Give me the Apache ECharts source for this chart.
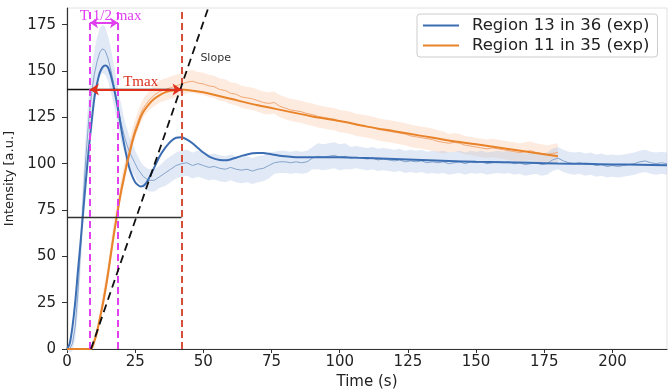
<!DOCTYPE html>
<html><head><meta charset="utf-8">
<script src="https://cdn.jsdelivr.net/npm/echarts@6/dist/echarts.min.js"></script>
<style>html,body{margin:0;padding:0;background:#fff}#c{width:670px;height:389px}</style>
</head><body><div id="c"></div>
<script>
// ---------- axis ticks ----------
const xTicks = [0, 25, 50, 75, 100, 125, 150, 175, 200];
const yTicks = [0, 25, 50, 75, 100, 125, 150, 175];

// ---------- Region 13 in 36 (blue) ----------
const tBlue = [0,1,2,3,4,5,6,7,8,9,10,11,12,13,14,15,16,17,18,19,20,21,22,23,24,25,26,27,28,29,
  30,32,34,36,38,40,42,44,46,48,50,52,54,56,58,60,62,64,66,68,70,72,74,76,78,80,82,84,86,88,
  90,92,94,96,98,100,102,104,106,108,110,112,114,116,118,120,122,124,126,128,130,132,134,136,138,
  140,142,144,146,148,150,152,154,156,158,160,162,164,166,168,170,172,174,176,178,180,182,184,186,
  188,190,192,194,196,198,200,202,204,206,208,210,212,214,216,218,220];
const blueExp = [0,0,3,12,30,55,82,105,124,138,148,155,160,162,161,157,151,144,136,128,121,115,110,106,103,100,97,95,93,92,
  91,91,93,95,97,99,100,100.5,99,100,99,98,98.5,97.5,97,98,97,96.5,97,96,97,97.5,99,100.5,101,101,100.5,101,100.5,101,
  103,104,103.5,104,104.5,103.5,104,103,103.5,103,102.5,103,102,102.5,102,101.5,102,101,101.5,101,101.5,100.5,101,100.5,101,
  100,100.5,101,100,101,100.5,101,100,100.5,101,100.5,101,100,100.5,99.5,100,100.5,99.5,100,102,103,101.5,100.5,100,
  100.5,99.5,100,99,99.5,98.5,99,98.5,99,99.5,100,101,101.5,100.5,100,100.5,100];
const blueErr = [1,2,4,7,10,12,13,13,13,13,13,13,13,13,13,12,12,11,11,10,10,9,9,8,8,7,7,6,6,6,
  6,6,6,7,7,7,7,7,7,7,7,7,7,7,7,7,7,7,7,7,7,7,7,6,6,6,6,6,6,6,
  6,7,7,7,7,7,7,6,6,6,6,6,6,6,6,6,6,6,6,6,6,6,6,6,6,
  6,6,6,6,6,6,6,6,6,6,6,6,6,6,6,6,6,6,6,6,6,6,6,6,
  6,6,6,6,6,6,6,6,6,6,6,6,6,6,6,6,6];
const tBlueFit = [0,1,2,3,4,5,6,7,8,9,10,11,12,13,14,15,16,17,18,19,20,21,22,23,24,25,26,27,28,29,
  30,32,34,36,38,40,42,44,46,48,50,52,54,56,58,60,62,64,66,68,70,72,74,76,78,80,84,88,92,96,100,
  110,120,130,140,150,160,170,180,190,200,210,220];
const blueFit = [0,3,12,25,42,58,75,92,108,122,135,143,149,152,153,152,148,142,135,127,118,110,103,97,93,90,88.5,87.7,88,89.5,
  92,98,104,108.5,112,114,114.3,113,111,108.5,106,104,102.7,102,101.8,102.3,103.2,104.2,105,105.6,105.8,105.7,105.3,104.8,104.3,104,103.5,103.4,103.4,103.4,103.4,
  103,102.5,102,101.5,101,100.8,100.5,100.1,99.9,99.6,99.4,99.2];

// ---------- Region 11 in 35 (orange) ----------
const tOrange = [0,2,4,6,8,9,10,11,12,13,14,15,16,17,18,19,20,21,22,23,24,25,26,27,28,29,30,
  32,34,36,38,40,42,44,46,48,50,52,54,56,58,60,62,64,66,68,70,72,74,76,78,80,82,84,86,88,
  90,92,94,96,98,100,102,104,106,108,110,112,114,116,118,120,122,124,126,128,130,132,134,136,138,
  140,142,144,146,148,150,152,154,156,158,160,162,164,166,168,170,172,174,176,178,180];
const orangeExp = [0,0,0,0,0,1,5,10,17,25,33,42,52,62,71,80,88,95,102,108,114,119,123,127,130,132,134,
  137,139,140,141,142,143,144,144.5,143.5,143,142,141.5,140,139.5,138,137.5,136,135.5,135,134,133,132.5,133,131,130,129,128.5,128,127,
  126.5,125.5,125,124.5,124,123,122.5,122,121,120.5,120,119.5,118.5,118,117.5,117,116.5,116,115,114.5,114,113.5,113,112,111.5,
  111,111.5,111,110,109.5,109,108.5,108,108.5,108,107.5,107,106.5,106,106.5,107,106,105.5,105,105.5,106];
const orangeErr = [0,0,0,0,0,1,2,3,3,4,4,4,5,5,5,5,5,5,5,5,5,5,5,5,5,5,5,
  6,6,6,6,6,6,6,6,6,6,6,6,6,6,6,6,6,6,6,6,6,6,6,6,6,6,6,6,6,
  6,6,6,6,6,6,6,6,6,6,6,6,6,6,6,6,6,6,6,6,6,6,6,6,6,
  5,5,5,5,5,5,5,5,5,5,5,5,5,5,5,5,5,5,5,5,5];
const tOrangeFit = [0,2,4,6,8,8.8,10,11,12,13,14,15,16,17,18,19,20,21,22,23,24,25,26,27,28,30,32,34,36,38,40,42,45,50,60,70,80,90,100,110,120,130,140,150,160,170,180];
const orangeFit = [0,0,0,0,0,0,4,9,16,23,31,40,50,60,69,78,86,93,100,106,112,117,121,125,128,132,135,137,138.5,139.3,139.8,140,139.6,138.5,135,131.5,128.5,125.5,123,120,117.5,115,112.5,110.5,108.3,106.2,104];

// ---------- annotation values ----------
const tHalfStart = 8.4, tHalfEnd = 18.7, tPeak = 42;
const peakLevel = 140, halfLevel = 71, halfArrowLevel = 176;
const slopeStart = [8.8, 0], slopeEnd = [51.8, 184];
const yMax = 184, xMax = 220;

const zip = (t, v) => t.map((x, i) => [x, v[i]]);

const BLUE = '#3b6db3', ORANGE = '#e8832a';
const MAG = '#e040f0', RED = '#d4503a';

// band polygon drawn through the axis scales (api.coord)
function band(name, t, v, e, color) {
  return {
    type: 'custom', name: name, silent: true, z: 1,
    data: [[t[0], v[0]]],
    renderItem: function (params, api) {
      const pts = [];
      for (let i = 0; i < t.length; i++) pts.push(api.coord([t[i], v[i] + e[i]]));
      for (let i = t.length - 1; i >= 0; i--) pts.push(api.coord([t[i], v[i] - e[i]]));
      return { type: 'polygon', shape: { points: pts }, style: { fill: color }, silent: true };
    }
  };
}

const chart = echarts.init(document.getElementById('c'), null, { renderer: 'canvas' });
const font = 'DejaVu Sans';
chart.setOption({
  animation: false,
  backgroundColor: '#fff',
  textStyle: { fontFamily: font },
  grid: { left: 67, right: 3, top: 8, bottom: 40, show: true, borderColor: '#e2e2e2', borderWidth: 1,
          outerBoundsMode: 'none', containLabel: false },
  legend: {
    left: 417, top: 14, orient: 'vertical', data: ['Region 13 in 36 (exp)', 'Region 11 in 35 (exp)'],
    icon: 'rect', itemWidth: 36, itemHeight: 2, itemGap: 3,
    backgroundColor: '#fff', borderColor: '#cccccc', borderWidth: 1, borderRadius: 3,
    padding: [3, 8, 3, 6],
    textStyle: { fontFamily: font, fontSize: 16.5, lineHeight: 16, color: '#222', padding: [0, 0, 0, 8] }
  },
  xAxis: {
    type: 'value', min: 0, max: xMax, interval: 25,
    name: 'Time (s)', nameLocation: 'middle', nameGap: 24,
    nameTextStyle: { fontFamily: font, fontSize: 15, color: '#222' },
    axisLine: { lineStyle: { color: '#333', width: 1.2 } },
    axisTick: { show: true, length: 4, customValues: xTicks, lineStyle: { color: '#333' } },
    axisLabel: { customValues: xTicks, fontFamily: font, fontSize: 15, color: '#222', margin: 6 },
    splitLine: { show: false }
  },
  yAxis: {
    type: 'value', min: 0, max: yMax, interval: 25,
    name: 'Intensity [a.u.]', nameLocation: 'middle', nameGap: 51, nameRotate: 90,
    nameTextStyle: { fontFamily: font, fontSize: 13, color: '#222' },
    axisLine: { show: true, lineStyle: { color: '#333', width: 1.2 } },
    axisTick: { show: true, length: 5, customValues: yTicks, lineStyle: { color: '#333' } },
    axisLabel: { customValues: yTicks, fontFamily: font, fontSize: 15, color: '#222', margin: 11 },
    splitLine: { show: false }
  },
  series: [
    band('ob', tOrange, orangeExp, orangeErr, 'rgba(252,208,178,0.42)'),
    band('bb', tBlue, blueExp, blueErr, 'rgba(180,203,232,0.42)'),
    { type: 'line', name: 'blueExpLine', data: zip(tBlue, blueExp), symbol: 'none',
      lineStyle: { color: '#86a3cc', width: 1 }, z: 2 },
    { type: 'line', name: 'orangeExpLine', data: zip(tOrange, orangeExp), symbol: 'none',
      lineStyle: { color: '#f0a877', width: 1 }, z: 2 },
    { type: 'line', name: 'Region 13 in 36 (exp)', data: zip(tBlueFit, blueFit), symbol: 'none', smooth: 0.3,
      color: BLUE, lineStyle: { color: BLUE, width: 2 }, z: 3 },
    { type: 'line', name: 'Region 11 in 35 (exp)', data: zip(tOrangeFit, orangeFit), symbol: 'none', smooth: 0.3,
      color: ORANGE, lineStyle: { color: ORANGE, width: 2 }, z: 3 },
    { type: 'line', name: 'annot', data: [[0, 0]], symbol: 'none', lineStyle: { opacity: 0 }, z: 5,
      markLine: {
        silent: true, symbol: ['none', 'none'], symbolSize: 9, label: { show: false },
        emphasis: { disabled: true },
        data: [
          [{ coord: [0, peakLevel], lineStyle: { color: '#111', width: 1.3, type: 'solid' } }, { coord: [tPeak, peakLevel] }],
          [{ coord: [0, halfLevel], lineStyle: { color: '#333', width: 1.3, type: 'solid' } }, { coord: [tPeak, halfLevel] }],
          [{ coord: [tHalfStart, 0], lineStyle: { color: MAG, width: 2, type: [7, 4] } }, { coord: [tHalfStart, yMax] }],
          [{ coord: [tHalfEnd, 0], lineStyle: { color: MAG, width: 2, type: [7, 4] } }, { coord: [tHalfEnd, yMax] }],
          [{ coord: [tPeak, 0], lineStyle: { color: RED, width: 2, type: [7, 4] } }, { coord: [tPeak, yMax] }],
          [{ coord: slopeStart, lineStyle: { color: '#111', width: 1.8, type: [8, 5] } }, { coord: slopeEnd }],
          [{ coord: [tHalfStart, halfArrowLevel], symbol: 'arrow', symbolSize: 8, lineStyle: { color: MAG, width: 2, type: 'solid' } },
           { coord: [tHalfEnd, halfArrowLevel], symbol: 'arrow', symbolSize: 8 }],
          [{ coord: [tHalfStart, peakLevel], symbol: 'arrow', symbolSize: 9, lineStyle: { color: '#e0301c', width: 2, type: 'solid' } },
           { coord: [tPeak, peakLevel], symbol: 'arrow', symbolSize: 9 }]
        ]
      },
      markPoint: {
        silent: true, symbol: 'circle', symbolSize: 0,
        data: [
          { coord: [16, 179.5], label: { show: true, formatter: 'T 1/2 max', color: MAG, fontFamily: 'Liberation Serif', fontSize: 15, position: 'inside' } },
          { coord: [27, 144], label: { show: true, formatter: 'Tmax', color: '#d9301c', fontFamily: 'Liberation Serif', fontSize: 15, position: 'inside' } },
          { coord: [54.5, 157], label: { show: true, formatter: 'Slope', color: '#333', fontFamily: font, fontSize: 11, position: 'inside' } }
        ]
      }
    }
  ]
});
</script>
</body></html>
